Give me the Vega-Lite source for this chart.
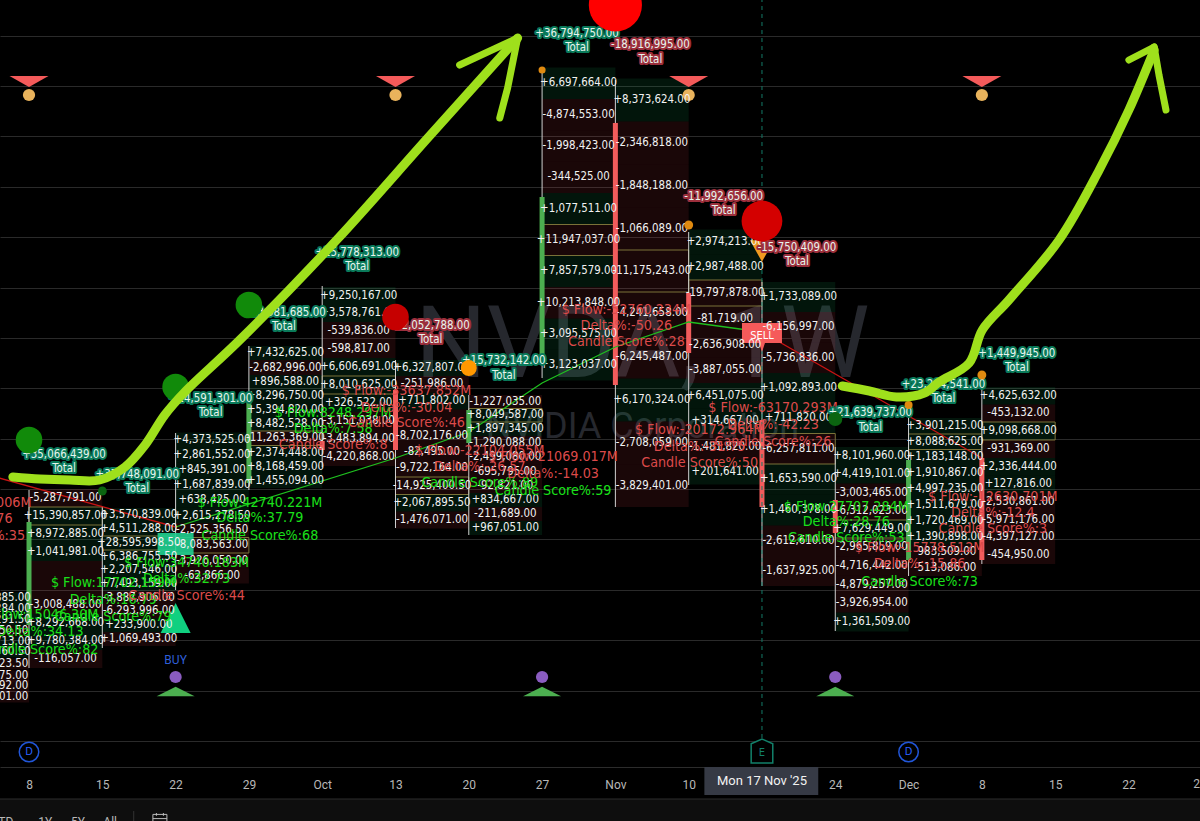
{"$schema":"https://vega.github.io/schema/vega-lite/v6.json","width":1200,"height":767,"autosize":"none","padding":{"left":0,"top":0,"right":0,"bottom":54},"background":"#000000","config":{"view":{"stroke":null},"text":{"font":"DejaVu Sans Condensed","baseline":"middle"}},
"resolve":{"scale":{"fill":"independent","stroke":"independent"}},
"datasets":{
"rows":[
{"d":"2025-09-01","e":"2025-09-08","p":164.3,"lo":163.75,"hi":164.85,"t":"+1,201,885.00","s":"buy"},
{"d":"2025-09-01","e":"2025-09-08","p":163.2,"lo":162.65,"hi":163.75,"t":"+3,121,284.00","s":"buy"},
{"d":"2025-09-01","e":"2025-09-08","p":162.1,"lo":161.55,"hi":162.65,"t":"+2,445,291.50","s":"buy"},
{"d":"2025-09-01","e":"2025-09-08","p":161.0,"lo":160.45,"hi":161.55,"t":"-1,310,950.50","s":"sell"},
{"d":"2025-09-01","e":"2025-09-08","p":159.9,"lo":159.35,"hi":160.45,"t":"+4,207,713.00","s":"buy"},
{"d":"2025-09-01","e":"2025-09-08","p":158.9,"lo":158.35,"hi":159.45,"t":"+1,988,760.50","s":"buy"},
{"d":"2025-09-01","e":"2025-09-08","p":157.7,"lo":157.15,"hi":158.25,"t":"-2,604,123.50","s":"sell"},
{"d":"2025-09-01","e":"2025-09-08","p":156.5,"lo":155.95,"hi":157.05,"t":"-1,533,075.00","s":"sell"},
{"d":"2025-09-01","e":"2025-09-08","p":155.5,"lo":154.95,"hi":156.05,"t":"-1,102,492.00","s":"sell"},
{"d":"2025-09-01","e":"2025-09-08","p":154.4,"lo":153.85,"hi":154.95,"t":"-1,744,201.00","s":"sell"},
{"d":"2025-09-08","e":"2025-09-15","p":174.3,"lo":173.4,"hi":175.2,"t":"-5,287,791.00","s":"sell"},
{"d":"2025-09-08","e":"2025-09-15","p":172.5,"lo":171.6,"hi":173.4,"t":"+15,390,857.00","s":"buy","c":1},
{"d":"2025-09-08","e":"2025-09-15","p":170.7,"lo":169.8,"hi":171.6,"t":"+8,972,885.00","s":"buy"},
{"d":"2025-09-08","e":"2025-09-15","p":168.9,"lo":168.0,"hi":169.8,"t":"+1,041,981.00","s":"buy"},
{"d":"2025-09-08","e":"2025-09-15","p":167.1,"lo":166.2,"hi":168.0,"t":"","s":"sell"},
{"d":"2025-09-08","e":"2025-09-15","p":165.3,"lo":164.5,"hi":166.2,"t":"","s":"sell"},
{"d":"2025-09-08","e":"2025-09-15","p":163.6,"lo":162.7,"hi":164.5,"t":"-3,008,488.00","s":"sell"},
{"d":"2025-09-08","e":"2025-09-15","p":161.8,"lo":160.9,"hi":162.7,"t":"+8,292,668.00","s":"buy"},
{"d":"2025-09-08","e":"2025-09-15","p":160.0,"lo":159.1,"hi":160.9,"t":"+9,780,384.00","s":"buy"},
{"d":"2025-09-08","e":"2025-09-15","p":158.2,"lo":157.3,"hi":159.1,"t":"-116,057.00","s":"sell"},
{"d":"2025-09-15","e":"2025-09-22","p":172.6,"lo":171.9,"hi":173.3,"t":"+3,570,839.00","s":"buy"},
{"d":"2025-09-15","e":"2025-09-22","p":171.2,"lo":170.5,"hi":171.9,"t":"+4,511,288.00","s":"buy"},
{"d":"2025-09-15","e":"2025-09-22","p":169.8,"lo":169.1,"hi":170.5,"t":"+28,595,998.50","s":"buy","c":1},
{"d":"2025-09-15","e":"2025-09-22","p":168.4,"lo":167.7,"hi":169.1,"t":"+6,386,755.50","s":"buy"},
{"d":"2025-09-15","e":"2025-09-22","p":167.1,"lo":166.4,"hi":167.7,"t":"+2,207,546.00","s":"buy"},
{"d":"2025-09-15","e":"2025-09-22","p":165.7,"lo":165.0,"hi":166.4,"t":"+7,493,159.00","s":"buy"},
{"d":"2025-09-15","e":"2025-09-22","p":164.3,"lo":163.6,"hi":165.0,"t":"-3,887,906.00","s":"sell"},
{"d":"2025-09-15","e":"2025-09-22","p":163.0,"lo":162.3,"hi":163.6,"t":"-6,293,996.00","s":"sell"},
{"d":"2025-09-15","e":"2025-09-22","p":161.6,"lo":160.9,"hi":162.3,"t":"+233,900.00","s":"buy"},
{"d":"2025-09-15","e":"2025-09-22","p":160.2,"lo":159.5,"hi":160.9,"t":"+1,069,493.00","s":"sell"},
{"d":"2025-09-22","e":"2025-09-29","p":180.1,"lo":179.35,"hi":180.85,"t":"+4,373,525.00","s":"buy"},
{"d":"2025-09-22","e":"2025-09-29","p":178.6,"lo":177.85,"hi":179.35,"t":"+2,861,552.00","s":"buy"},
{"d":"2025-09-22","e":"2025-09-29","p":177.1,"lo":176.35,"hi":177.85,"t":"+845,391.00","s":"buy"},
{"d":"2025-09-22","e":"2025-09-29","p":175.6,"lo":174.85,"hi":176.35,"t":"+1,687,839.00","s":"buy"},
{"d":"2025-09-22","e":"2025-09-29","p":174.1,"lo":173.35,"hi":174.85,"t":"+638,425.00","s":"buy"},
{"d":"2025-09-22","e":"2025-09-29","p":172.5,"lo":171.8,"hi":173.35,"t":"+2,615,278.50","s":"buy"},
{"d":"2025-09-22","e":"2025-09-29","p":171.1,"lo":170.35,"hi":171.8,"t":"-2,525,356.50","s":"sell"},
{"d":"2025-09-22","e":"2025-09-29","p":169.6,"lo":168.8,"hi":170.35,"t":"-8,083,563.00","s":"sell","c":1},
{"d":"2025-09-22","e":"2025-09-29","p":168.0,"lo":167.25,"hi":168.8,"t":"-3,926,050.00","s":"sell"},
{"d":"2025-09-22","e":"2025-09-29","p":166.5,"lo":165.75,"hi":167.25,"t":"-62,866.00","s":"sell"},
{"d":"2025-09-29","e":"2025-10-06","p":188.8,"lo":188.1,"hi":189.5,"t":"+7,432,625.00","s":"buy"},
{"d":"2025-09-29","e":"2025-10-06","p":187.3,"lo":186.6,"hi":188.1,"t":"-2,682,996.00","s":"sell"},
{"d":"2025-09-29","e":"2025-10-06","p":185.9,"lo":185.2,"hi":186.6,"t":"+896,588.00","s":"buy"},
{"d":"2025-09-29","e":"2025-10-06","p":184.5,"lo":183.8,"hi":185.2,"t":"+8,296,750.00","s":"buy"},
{"d":"2025-09-29","e":"2025-10-06","p":183.1,"lo":182.4,"hi":183.8,"t":"+5,394,820.00","s":"buy"},
{"d":"2025-09-29","e":"2025-10-06","p":181.7,"lo":181.0,"hi":182.4,"t":"+8,482,528.00","s":"buy"},
{"d":"2025-09-29","e":"2025-10-06","p":180.3,"lo":179.55,"hi":181.0,"t":"-11,263,369.00","s":"sell","c":1},
{"d":"2025-09-29","e":"2025-10-06","p":178.8,"lo":178.1,"hi":179.55,"t":"+2,374,448.00","s":"buy"},
{"d":"2025-09-29","e":"2025-10-06","p":177.4,"lo":176.7,"hi":178.1,"t":"+8,168,459.00","s":"buy"},
{"d":"2025-09-29","e":"2025-10-06","p":176.0,"lo":175.3,"hi":176.7,"t":"+1,455,094.00","s":"buy"},
{"d":"2025-10-06","e":"2025-10-13","p":194.5,"lo":193.6,"hi":195.4,"t":"+9,250,167.00","s":"buy"},
{"d":"2025-10-06","e":"2025-10-13","p":192.8,"lo":191.9,"hi":193.6,"t":"+3,578,761.00","s":"buy"},
{"d":"2025-10-06","e":"2025-10-13","p":191.0,"lo":190.1,"hi":191.9,"t":"-539,836.00","s":"sell"},
{"d":"2025-10-06","e":"2025-10-13","p":189.2,"lo":188.3,"hi":190.1,"t":"-598,817.00","s":"sell"},
{"d":"2025-10-06","e":"2025-10-13","p":187.4,"lo":186.5,"hi":188.3,"t":"+6,606,691.00","s":"buy"},
{"d":"2025-10-06","e":"2025-10-13","p":185.6,"lo":184.7,"hi":186.5,"t":"+8,010,625.00","s":"buy","c":1},
{"d":"2025-10-06","e":"2025-10-13","p":183.8,"lo":182.9,"hi":184.7,"t":"+326,522.00","s":"buy"},
{"d":"2025-10-06","e":"2025-10-13","p":182.0,"lo":181.1,"hi":182.9,"t":"-3,151,038.00","s":"sell"},
{"d":"2025-10-06","e":"2025-10-13","p":180.2,"lo":179.3,"hi":181.1,"t":"-3,483,894.00","s":"sell"},
{"d":"2025-10-06","e":"2025-10-13","p":178.4,"lo":177.5,"hi":179.3,"t":"-4,220,868.00","s":"sell"},
{"d":"2025-10-13","e":"2025-10-20","p":187.3,"lo":186.5,"hi":188.1,"t":"+6,327,807.00","s":"buy"},
{"d":"2025-10-13","e":"2025-10-20","p":185.7,"lo":184.85,"hi":186.5,"t":"-251,986.00","s":"sell"},
{"d":"2025-10-13","e":"2025-10-20","p":184.0,"lo":183.15,"hi":184.85,"t":"+711,802.00","s":"buy"},
{"d":"2025-10-13","e":"2025-10-20","p":182.3,"lo":181.4,"hi":183.15,"t":"","s":"sell"},
{"d":"2025-10-13","e":"2025-10-20","p":180.5,"lo":179.7,"hi":181.4,"t":"-8,702,176.00","s":"sell"},
{"d":"2025-10-13","e":"2025-10-20","p":178.9,"lo":178.1,"hi":179.7,"t":"-82,495.00","s":"sell"},
{"d":"2025-10-13","e":"2025-10-20","p":177.3,"lo":176.4,"hi":178.1,"t":"-9,722,164.00","s":"sell"},
{"d":"2025-10-13","e":"2025-10-20","p":175.5,"lo":174.65,"hi":176.4,"t":"-14,925,400.50","s":"sell","c":1},
{"d":"2025-10-13","e":"2025-10-20","p":173.8,"lo":172.95,"hi":174.65,"t":"+2,067,895.50","s":"buy"},
{"d":"2025-10-13","e":"2025-10-20","p":172.1,"lo":171.25,"hi":172.95,"t":"-1,476,071.00","s":"sell"},
{"d":"2025-10-20","e":"2025-10-27","p":183.9,"lo":183.25,"hi":184.6,"t":"-1,227,035.00","s":"sell"},
{"d":"2025-10-20","e":"2025-10-27","p":182.6,"lo":181.9,"hi":183.25,"t":"+8,049,587.00","s":"buy","c":1},
{"d":"2025-10-20","e":"2025-10-27","p":181.2,"lo":180.5,"hi":181.9,"t":"+1,897,345.00","s":"buy"},
{"d":"2025-10-20","e":"2025-10-27","p":179.8,"lo":179.1,"hi":180.5,"t":"-1,290,088.00","s":"sell"},
{"d":"2025-10-20","e":"2025-10-27","p":178.4,"lo":177.65,"hi":179.1,"t":"-2,499,080.00","s":"sell"},
{"d":"2025-10-20","e":"2025-10-27","p":176.9,"lo":176.2,"hi":177.65,"t":"-695,795.00","s":"sell"},
{"d":"2025-10-20","e":"2025-10-27","p":175.5,"lo":174.8,"hi":176.2,"t":"-92,821.00","s":"sell"},
{"d":"2025-10-20","e":"2025-10-27","p":174.1,"lo":173.4,"hi":174.8,"t":"+834,667.00","s":"buy"},
{"d":"2025-10-20","e":"2025-10-27","p":172.7,"lo":172.0,"hi":173.4,"t":"-211,689.00","s":"sell"},
{"d":"2025-10-20","e":"2025-10-27","p":171.3,"lo":170.6,"hi":172.0,"t":"+967,051.00","s":"buy"},
{"d":"2025-10-27","e":"2025-11-03","p":215.8,"lo":214.2,"hi":217.35,"t":"+6,697,664.00","s":"buy"},
{"d":"2025-10-27","e":"2025-11-03","p":212.6,"lo":211.05,"hi":214.2,"t":"-4,874,553.00","s":"sell"},
{"d":"2025-10-27","e":"2025-11-03","p":209.5,"lo":207.95,"hi":211.05,"t":"-1,998,423.00","s":"sell"},
{"d":"2025-10-27","e":"2025-11-03","p":206.4,"lo":204.8,"hi":207.95,"t":"-344,525.00","s":"sell"},
{"d":"2025-10-27","e":"2025-11-03","p":203.2,"lo":201.65,"hi":204.8,"t":"+1,077,511.00","s":"buy"},
{"d":"2025-10-27","e":"2025-11-03","p":200.1,"lo":198.55,"hi":201.65,"t":"+11,947,037.00","s":"sell","c":1},
{"d":"2025-10-27","e":"2025-11-03","p":197.0,"lo":195.4,"hi":198.55,"t":"+7,857,579.00","s":"buy"},
{"d":"2025-10-27","e":"2025-11-03","p":193.8,"lo":192.25,"hi":195.4,"t":"+10,213,848.00","s":"sell"},
{"d":"2025-10-27","e":"2025-11-03","p":190.7,"lo":189.15,"hi":192.25,"t":"+3,095,575.00","s":"buy"},
{"d":"2025-10-27","e":"2025-11-03","p":187.6,"lo":186.05,"hi":189.15,"t":"+3,123,037.00","s":"buy"},
{"d":"2025-11-03","e":"2025-11-10","p":214.1,"lo":211.95,"hi":216.25,"t":"+8,373,624.00","s":"buy"},
{"d":"2025-11-03","e":"2025-11-10","p":209.8,"lo":207.65,"hi":211.95,"t":"-2,346,818.00","s":"sell"},
{"d":"2025-11-03","e":"2025-11-10","p":205.5,"lo":203.35,"hi":207.65,"t":"-1,848,188.00","s":"sell"},
{"d":"2025-11-03","e":"2025-11-10","p":201.2,"lo":199.1,"hi":203.35,"t":"-1,066,089.00","s":"sell"},
{"d":"2025-11-03","e":"2025-11-10","p":197.0,"lo":194.9,"hi":199.1,"t":"-11,175,243.00","s":"sell","c":1},
{"d":"2025-11-03","e":"2025-11-10","p":192.8,"lo":190.6,"hi":194.9,"t":"-4,241,658.00","s":"sell"},
{"d":"2025-11-03","e":"2025-11-10","p":188.4,"lo":186.25,"hi":190.6,"t":"-6,245,487.00","s":"sell"},
{"d":"2025-11-03","e":"2025-11-10","p":184.1,"lo":181.95,"hi":186.25,"t":"+6,170,324.00","s":"buy"},
{"d":"2025-11-03","e":"2025-11-10","p":179.8,"lo":177.65,"hi":181.95,"t":"-2,708,059.00","s":"sell"},
{"d":"2025-11-03","e":"2025-11-10","p":175.5,"lo":173.4,"hi":177.65,"t":"-3,829,401.00","s":"sell"},
{"d":"2025-11-10","e":"2025-11-17","p":199.9,"lo":198.65,"hi":201.15,"t":"+2,974,213.00","s":"buy"},
{"d":"2025-11-10","e":"2025-11-17","p":197.4,"lo":196.1,"hi":198.65,"t":"+2,987,488.00","s":"buy"},
{"d":"2025-11-10","e":"2025-11-17","p":194.8,"lo":193.5,"hi":196.1,"t":"-19,797,878.00","s":"sell","c":1},
{"d":"2025-11-10","e":"2025-11-17","p":192.2,"lo":190.9,"hi":193.5,"t":"-81,719.00","s":"sell"},
{"d":"2025-11-10","e":"2025-11-17","p":189.6,"lo":188.35,"hi":190.9,"t":"-2,636,908.00","s":"sell"},
{"d":"2025-11-10","e":"2025-11-17","p":187.1,"lo":185.8,"hi":188.35,"t":"-3,887,055.00","s":"sell"},
{"d":"2025-11-10","e":"2025-11-17","p":184.5,"lo":183.25,"hi":185.8,"t":"+6,451,075.00","s":"buy"},
{"d":"2025-11-10","e":"2025-11-17","p":182.0,"lo":180.7,"hi":183.25,"t":"+314,667.00","s":"buy"},
{"d":"2025-11-10","e":"2025-11-17","p":179.4,"lo":178.15,"hi":180.7,"t":"-1,481,820.00","s":"sell"},
{"d":"2025-11-10","e":"2025-11-17","p":176.9,"lo":175.65,"hi":178.15,"t":"+201,641.00","s":"buy"},
{"d":"2025-11-17","e":"2025-11-24","p":194.4,"lo":192.9,"hi":195.9,"t":"+1,733,089.00","s":"buy"},
{"d":"2025-11-17","e":"2025-11-24","p":191.4,"lo":189.85,"hi":192.9,"t":"-6,156,997.00","s":"sell"},
{"d":"2025-11-17","e":"2025-11-24","p":188.3,"lo":186.8,"hi":189.85,"t":"-5,736,836.00","s":"sell"},
{"d":"2025-11-17","e":"2025-11-24","p":185.3,"lo":183.8,"hi":186.8,"t":"+1,092,893.00","s":"buy"},
{"d":"2025-11-17","e":"2025-11-24","p":182.3,"lo":180.75,"hi":183.8,"t":"+711,820.00","s":"buy"},
{"d":"2025-11-17","e":"2025-11-24","p":179.2,"lo":177.7,"hi":180.75,"t":"-6,257,811.00","s":"sell","c":1},
{"d":"2025-11-17","e":"2025-11-24","p":176.2,"lo":174.65,"hi":177.7,"t":"+1,653,590.00","s":"buy"},
{"d":"2025-11-17","e":"2025-11-24","p":173.1,"lo":171.55,"hi":174.65,"t":"+1,460,378.00","s":"buy"},
{"d":"2025-11-17","e":"2025-11-24","p":170.0,"lo":168.5,"hi":171.55,"t":"-2,612,610.00","s":"sell"},
{"d":"2025-11-17","e":"2025-11-24","p":167.0,"lo":165.5,"hi":168.5,"t":"-1,637,925.00","s":"sell"},
{"d":"2025-11-24","e":"2025-12-01","p":178.5,"lo":177.6,"hi":179.4,"t":"+8,101,960.00","s":"buy"},
{"d":"2025-11-24","e":"2025-12-01","p":176.7,"lo":175.75,"hi":177.6,"t":"+4,419,101.00","s":"buy"},
{"d":"2025-11-24","e":"2025-12-01","p":174.8,"lo":173.9,"hi":175.75,"t":"-3,003,465.00","s":"sell"},
{"d":"2025-11-24","e":"2025-12-01","p":173.0,"lo":172.1,"hi":173.9,"t":"-6,312,023.00","s":"sell"},
{"d":"2025-11-24","e":"2025-12-01","p":171.2,"lo":170.3,"hi":172.1,"t":"+7,629,449.00","s":"buy","c":1},
{"d":"2025-11-24","e":"2025-12-01","p":169.4,"lo":168.45,"hi":170.3,"t":"-2,965,859.00","s":"sell"},
{"d":"2025-11-24","e":"2025-12-01","p":167.5,"lo":166.55,"hi":168.45,"t":"-4,716,442.00","s":"sell"},
{"d":"2025-11-24","e":"2025-12-01","p":165.6,"lo":164.7,"hi":166.55,"t":"-4,879,257.00","s":"sell"},
{"d":"2025-11-24","e":"2025-12-01","p":163.8,"lo":162.85,"hi":164.7,"t":"-3,926,954.00","s":"sell"},
{"d":"2025-11-24","e":"2025-12-01","p":161.9,"lo":160.95,"hi":162.85,"t":"+1,361,509.00","s":"buy"},
{"d":"2025-12-01","e":"2025-12-08","p":181.5,"lo":180.7,"hi":182.3,"t":"+3,901,215.00","s":"buy"},
{"d":"2025-12-01","e":"2025-12-08","p":179.9,"lo":179.15,"hi":180.7,"t":"+8,088,625.00","s":"buy","c":1},
{"d":"2025-12-01","e":"2025-12-08","p":178.4,"lo":177.6,"hi":179.15,"t":"+1,183,148.00","s":"buy"},
{"d":"2025-12-01","e":"2025-12-08","p":176.8,"lo":176.0,"hi":177.6,"t":"+1,910,867.00","s":"buy"},
{"d":"2025-12-01","e":"2025-12-08","p":175.2,"lo":174.4,"hi":176.0,"t":"+4,997,235.00","s":"buy"},
{"d":"2025-12-01","e":"2025-12-08","p":173.6,"lo":172.8,"hi":174.4,"t":"+1,511,679.00","s":"buy"},
{"d":"2025-12-01","e":"2025-12-08","p":172.0,"lo":171.2,"hi":172.8,"t":"+1,720,469.00","s":"buy"},
{"d":"2025-12-01","e":"2025-12-08","p":170.4,"lo":169.65,"hi":171.2,"t":"+1,390,898.00","s":"buy"},
{"d":"2025-12-01","e":"2025-12-08","p":168.9,"lo":168.1,"hi":169.65,"t":"-983,509.00","s":"sell"},
{"d":"2025-12-01","e":"2025-12-08","p":167.3,"lo":166.5,"hi":168.1,"t":"-513,086.00","s":"sell"},
{"d":"2025-12-08","e":"2025-12-15","p":184.5,"lo":183.65,"hi":185.4,"t":"+4,625,632.00","s":"buy"},
{"d":"2025-12-08","e":"2025-12-15","p":182.8,"lo":181.9,"hi":183.65,"t":"-453,132.00","s":"sell"},
{"d":"2025-12-08","e":"2025-12-15","p":181.0,"lo":180.1,"hi":181.9,"t":"+9,098,668.00","s":"buy","c":1},
{"d":"2025-12-08","e":"2025-12-15","p":179.2,"lo":178.3,"hi":180.1,"t":"-931,369.00","s":"sell"},
{"d":"2025-12-08","e":"2025-12-15","p":177.4,"lo":176.55,"hi":178.3,"t":"+2,336,444.00","s":"buy"},
{"d":"2025-12-08","e":"2025-12-15","p":175.7,"lo":174.8,"hi":176.55,"t":"+127,816.00","s":"buy"},
{"d":"2025-12-08","e":"2025-12-15","p":173.9,"lo":173.0,"hi":174.8,"t":"-2,530,861.00","s":"sell"},
{"d":"2025-12-08","e":"2025-12-15","p":172.1,"lo":171.25,"hi":173.0,"t":"-5,971,176.00","s":"sell"},
{"d":"2025-12-08","e":"2025-12-15","p":170.4,"lo":169.5,"hi":171.25,"t":"-4,397,127.00","s":"sell"},
{"d":"2025-12-08","e":"2025-12-15","p":168.6,"lo":167.7,"hi":169.5,"t":"-454,950.00","s":"sell"}
],
"wicks":[
{"d":"2025-09-08","lo":157.3,"hi":175.1},{"d":"2025-09-15","lo":159.3,"hi":173.5},{"d":"2025-09-22","lo":165.1,"hi":180.8},{"d":"2025-09-29","lo":175.1,"hi":189.5},{"d":"2025-10-06","lo":177.4,"hi":195.5},{"d":"2025-10-13","lo":171.3,"hi":188.1},{"d":"2025-10-20","lo":170.6,"hi":184.6},{"d":"2025-10-27","lo":186.3,"hi":216.8},{"d":"2025-11-03","lo":173.4,"hi":216.1},{"d":"2025-11-10","lo":175.6,"hi":200.9},{"d":"2025-11-17","lo":165.5,"hi":195.9},{"d":"2025-11-24","lo":161.0,"hi":179.4},{"d":"2025-12-01","lo":166.5,"hi":182.3},{"d":"2025-12-08","lo":167.7,"hi":185.4}],
"bodies":[
{"d":"2025-09-08","lo":161.6,"hi":171.9,"s":"buy"},{"d":"2025-09-29","lo":175.8,"hi":184.8,"s":"buy"},{"d":"2025-10-06","lo":179.1,"hi":180.0,"s":"sell"},{"d":"2025-10-13","lo":179.1,"hi":185.1,"s":"sell"},{"d":"2025-10-20","lo":179.8,"hi":183.1,"s":"buy"},{"d":"2025-10-27","lo":188.6,"hi":204.4,"s":"buy"},{"d":"2025-11-03","lo":185.6,"hi":211.8,"s":"sell"},{"d":"2025-11-10","lo":188.8,"hi":194.8,"s":"sell"},{"d":"2025-11-17","lo":173.4,"hi":182.1,"s":"sell"},{"d":"2025-11-24","lo":170.8,"hi":174.1,"s":"sell"},{"d":"2025-12-01","lo":168.1,"hi":178.1,"s":"buy"},{"d":"2025-12-08","lo":168.1,"hi":178.3,"s":"sell"}],
"flow":[
{"d":"2025-09-01","p":173.8,"t":"$ Flow:-21006.006M","s":"sell"},{"d":"2025-09-01","p":172.2,"t":"Delta%:-24.76","s":"sell"},{"d":"2025-09-01","p":170.5,"t":"Candle Score%:35","s":"sell"},
{"d":"2025-09-08","p":162.6,"t":"$ Flow:15046.30M","s":"buy"},{"d":"2025-09-08","p":160.9,"t":"Delta%:34.13","s":"buy"},{"d":"2025-09-08","p":159.1,"t":"Candle Score%:82","s":"buy"},
{"d":"2025-09-15","p":165.8,"t":"$ Flow:17702.159M","s":"buy"},{"d":"2025-09-15","p":164.1,"t":"Delta%:16.79","s":"buy"},{"d":"2025-09-15","p":162.4,"t":"Candle Score%:79","s":"buy"},
{"d":"2025-09-22","p":167.8,"t":"$ Flow:34740.183M","s":"buy"},{"d":"2025-09-22","p":166.2,"t":"Delta%:32.73","s":"buy"},{"d":"2025-09-22","p":164.5,"t":"Candle Score%:44","s":"sell"},
{"d":"2025-09-29","p":173.8,"t":"$ Flow:42740.221M","s":"buy"},{"d":"2025-09-29","p":172.3,"t":"Delta%:37.79","s":"buy"},{"d":"2025-09-29","p":170.5,"t":"Candle Score%:68","s":"buy"},
{"d":"2025-10-06","p":182.8,"t":"$ Flow:8248.297M","s":"buy"},{"d":"2025-10-06","p":181.2,"t":"Delta%:7.58","s":"buy"},{"d":"2025-10-06","p":179.6,"t":"Candle Score%:8","s":"sell"},
{"d":"2025-10-13","p":185.0,"t":"$ Flow:-33637.852M","s":"sell"},{"d":"2025-10-13","p":183.3,"t":"Delta%:-30.04","s":"sell"},{"d":"2025-10-13","p":181.8,"t":"Candle Score%:46","s":"sell"},
{"d":"2025-10-20","p":179.0,"t":"$ Flow:-22104.055M","s":"sell"},{"d":"2025-10-20","p":177.4,"t":"Delta%:-26.57","s":"sell"},{"d":"2025-10-20","p":175.8,"t":"Candle Score%:89","s":"buy"},
{"d":"2025-10-27","p":178.4,"t":"$ Flow:-21069.017M","s":"sell"},{"d":"2025-10-27","p":176.7,"t":"Delta%:-14.03","s":"sell"},{"d":"2025-10-27","p":175.0,"t":"Candle Score%:59","s":"buy"},
{"d":"2025-11-03","p":193.1,"t":"$ Flow:-52760.234M","s":"sell"},{"d":"2025-11-03","p":191.5,"t":"Delta%:-50.26","s":"sell"},{"d":"2025-11-03","p":189.9,"t":"Candle Score%:28","s":"sell"},
{"d":"2025-11-10","p":181.1,"t":"$ Flow:-20172.964M","s":"sell"},{"d":"2025-11-10","p":179.4,"t":"Delta%:-31.75","s":"sell"},{"d":"2025-11-10","p":177.8,"t":"Candle Score%:50","s":"sell"},
{"d":"2025-11-17","p":183.3,"t":"$ Flow:-63170.293M","s":"sell"},{"d":"2025-11-17","p":181.6,"t":"Delta%:-42.23","s":"sell"},{"d":"2025-11-17","p":179.9,"t":"Candle Score%:26","s":"sell"},
{"d":"2025-11-24","p":173.4,"t":"$ Flow:27707.284M","s":"buy"},{"d":"2025-11-24","p":171.9,"t":"Delta%:28.76","s":"buy"},{"d":"2025-11-24","p":170.3,"t":"Candle Score%:53","s":"buy"},
{"d":"2025-12-01","p":169.3,"t":"$ Flow:-15778.512M","s":"sell"},{"d":"2025-12-01","p":167.7,"t":"Delta%:-15.86","s":"sell"},{"d":"2025-12-01","p":165.9,"t":"Candle Score%:73","s":"buy"},
{"d":"2025-12-08","p":174.4,"t":"$ Flow:-12630.701M","s":"sell"},{"d":"2025-12-08","p":172.8,"t":"Delta%:-12.4","s":"sell"},{"d":"2025-12-08","p":171.2,"t":"Candle Score%:3","s":"sell"}],
"totals":[
{"d":"2025-09-08","p":178.6,"t":"+35,066,439.00","s":"buy"},{"d":"2025-09-08","p":177.2,"t":"Total","s":"buy"},
{"d":"2025-09-15","p":176.6,"t":"+37,748,091.00","s":"buy"},{"d":"2025-09-15","p":175.2,"t":"Total","s":"buy"},
{"d":"2025-09-22","p":184.2,"t":"+14,591,301.00","s":"buy"},{"d":"2025-09-22","p":182.8,"t":"Total","s":"buy"},
{"d":"2025-09-29","p":192.8,"t":"+13,081,685.00","s":"buy"},{"d":"2025-09-29","p":191.4,"t":"Total","s":"buy"},
{"d":"2025-10-06","p":198.8,"t":"+15,778,313.00","s":"buy"},{"d":"2025-10-06","p":197.4,"t":"Total","s":"buy"},
{"d":"2025-10-13","p":191.5,"t":"-12,052,788.00","s":"sell"},{"d":"2025-10-13","p":190.1,"t":"Total","s":"sell"},
{"d":"2025-10-20","p":188.0,"t":"+15,732,142.00","s":"buy"},{"d":"2025-10-20","p":186.5,"t":"Total","s":"buy"},
{"d":"2025-10-27","p":220.7,"t":"+36,794,750.00","s":"buy"},{"d":"2025-10-27","p":219.3,"t":"Total","s":"buy"},
{"d":"2025-11-03","p":219.6,"t":"-18,916,995.00","s":"sell"},{"d":"2025-11-03","p":218.1,"t":"Total","s":"sell"},
{"d":"2025-11-10","p":204.4,"t":"-11,992,656.00","s":"sell"},{"d":"2025-11-10","p":203.0,"t":"Total","s":"sell"},
{"d":"2025-11-17","p":199.3,"t":"-15,750,409.00","s":"sell"},{"d":"2025-11-17","p":197.9,"t":"Total","s":"sell"},
{"d":"2025-11-24","p":182.8,"t":"+21,639,737.00","s":"buy"},{"d":"2025-11-24","p":181.3,"t":"Total","s":"buy"},
{"d":"2025-12-01","p":185.6,"t":"+23,264,541.00","s":"buy"},{"d":"2025-12-01","p":184.2,"t":"Total","s":"buy"},
{"d":"2025-12-08","p":188.7,"t":"+1,449,945.00","s":"buy"},{"d":"2025-12-08","p":187.3,"t":"Total","s":"buy"}],
"circles":[
{"d":"2025-09-08","p":180.1,"k":"g","z":707},{"d":"2025-09-22","p":185.4,"k":"g","z":707},{"d":"2025-09-29","p":193.6,"k":"g","z":707},{"d":"2025-10-13","p":192.4,"k":"r","z":707},{"d":"2025-11-03","p":223.6,"k":"R","z":2827},{"d":"2025-11-17","p":202.0,"k":"r2","z":1662},{"d":"2025-11-24","p":182.2,"k":"dg","z":201},{"d":"2025-09-15","p":175.0,"k":"dg","z":79},
{"d":"2025-10-20","p":187.3,"k":"o","z":254},{"d":"2025-10-27","p":217.1,"k":"o2","z":50},{"d":"2025-11-10","p":201.6,"k":"o2","z":79},{"d":"2025-12-01","p":183.6,"k":"o2","z":64},{"d":"2025-12-08","p":186.6,"k":"o2","z":79}],
"paths":[
{"d":"2025-09-01","p":177.5,"k":"red1","o":1},{"d":"2025-09-22","p":171.4,"k":"red1","o":2},
{"d":"2025-09-22","p":171.4,"k":"grn","o":1},{"d":"2025-10-13","p":178.3,"k":"grn","o":2},{"d":"2025-10-20","p":180.9,"k":"grn","o":3},{"d":"2025-10-27","p":185.8,"k":"grn","o":4},{"d":"2025-11-03","p":189.4,"k":"grn","o":5},{"d":"2025-11-10","p":191.9,"k":"grn","o":6},{"d":"2025-11-17","p":190.9,"k":"grn","o":7},
{"d":"2025-11-17","p":190.9,"k":"red2","o":1},{"d":"2025-12-08","p":178.3,"k":"red2","o":2}],
"tops":[{"d":"2025-09-08","p":215.95,"q":214.6},{"d":"2025-10-13","p":215.95,"q":214.6},{"d":"2025-11-10","p":215.95,"q":214.6},{"d":"2025-12-08","p":215.95,"q":214.6}],
"buys":[{"d":"2025-09-22","p":154.95,"q":156.4},{"d":"2025-10-27","p":154.95,"q":156.4},{"d":"2025-11-24","p":154.95,"q":156.4}],
"ticks":[{"d":"2025-09-08","p":148.9,"t":"D"},{"d":"2025-12-01","p":148.9,"t":"D"}],
"strokes":[
{"d":"2025-09-06T11:00:00Z","p":176.4,"k":"a","o":1},{"d":"2025-09-09T01:00:00Z","p":176.2,"k":"a","o":2},{"d":"2025-09-11T22:00:00Z","p":176.1,"k":"a","o":3},{"d":"2025-09-14T18:00:00Z","p":176.1,"k":"a","o":4},{"d":"2025-09-17T04:00:00Z","p":177.4,"k":"a","o":5},{"d":"2025-09-19T02:00:00Z","p":179.6,"k":"a","o":6},{"d":"2025-09-20T23:00:00Z","p":182.6,"k":"a","o":7},{"d":"2025-09-22T21:00:00Z","p":184.9,"k":"a","o":8},{"d":"2025-09-28T03:00:00Z","p":190.1,"k":"a","o":9},{"d":"2025-10-07T09:00:00Z","p":200.1,"k":"a","o":10},{"d":"2025-10-16T06:00:00Z","p":210.5,"k":"a","o":11},{"d":"2025-10-24T16:00:00Z","p":220.3,"k":"a","o":12},
{"d":"2025-10-19T03:00:00Z","p":217.6,"k":"a1","o":1},{"d":"2025-10-24T16:00:00Z","p":220.3,"k":"a1","o":2},
{"d":"2025-10-24T16:00:00Z","p":220.3,"k":"a2","o":1},{"d":"2025-10-23T17:00:00Z","p":215.3,"k":"a2","o":2},{"d":"2025-10-22T23:00:00Z","p":212.3,"k":"a2","o":3},
{"d":"2025-11-24T16:00:00Z","p":185.5,"k":"b","o":1},{"d":"2025-11-27T06:00:00Z","p":185.0,"k":"b","o":2},{"d":"2025-11-29T20:00:00Z","p":184.4,"k":"b","o":3},{"d":"2025-12-02T12:00:00Z","p":184.8,"k":"b","o":4},{"d":"2025-12-03T22:00:00Z","p":185.9,"k":"b","o":5},{"d":"2025-12-06T19:00:00Z","p":187.8,"k":"b","o":6},{"d":"2025-12-08T01:00:00Z","p":191.1,"k":"b","o":7},{"d":"2025-12-10T14:00:00Z","p":194.1,"k":"b","o":8},{"d":"2025-12-15T09:00:00Z","p":200.1,"k":"b","o":9},{"d":"2025-12-19T05:00:00Z","p":207.1,"k":"b","o":10},{"d":"2025-12-22T01:00:00Z","p":213.1,"k":"b","o":11},{"d":"2025-12-24T11:00:00Z","p":219.1,"k":"b","o":12},
{"d":"2025-12-22T01:00:00Z","p":218.1,"k":"b1","o":1},{"d":"2025-12-24T11:00:00Z","p":219.4,"k":"b1","o":2},
{"d":"2025-12-24T11:00:00Z","p":219.4,"k":"b2","o":1},{"d":"2025-12-24T22:00:00Z","p":216.6,"k":"b2","o":2},{"d":"2025-12-25T14:00:00Z","p":213.1,"k":"b2","o":3}],
"chrome":[{"d":"2025-09-05T19:00:00Z","p":141.9,"t":"TD"},{"d":"2025-09-09T13:00:00Z","p":141.9,"t":"1Y"},{"d":"2025-09-12T16:00:00Z","p":141.9,"t":"5Y"},{"d":"2025-09-15T18:00:00Z","p":141.9,"t":"All"},{"d":"2025-12-28T20:00:00Z","p":145.7,"t":"29"}]
},
"encoding":{
"x":{"field":"d","type":"temporal","scale":{"type":"utc","domain":[{"utc":true,"year":2025,"month":"sep","date":5,"hours":5,"minutes":30},{"utc":true,"year":2025,"month":"dec","date":28,"hours":20}]},"axis":{"title":null,"grid":false,"ticks":false,"domain":true,"domainColor":"#2c2c2c","labelColor":"#b8b8b8","labelFont":"Roboto","labelFontSize":12,"labelBaseline":"middle","labelPadding":17,"labelOverlap":false,"labelFlush":false,"labelBound":false,
"values":[{"utc":true,"year":2025,"month":"sep","date":8},{"utc":true,"year":2025,"month":"sep","date":15},{"utc":true,"year":2025,"month":"sep","date":22},{"utc":true,"year":2025,"month":"sep","date":29},{"utc":true,"year":2025,"month":"oct","date":6},{"utc":true,"year":2025,"month":"oct","date":13},{"utc":true,"year":2025,"month":"oct","date":20},{"utc":true,"year":2025,"month":"oct","date":27},{"utc":true,"year":2025,"month":"nov","date":3},{"utc":true,"year":2025,"month":"nov","date":10},{"utc":true,"year":2025,"month":"nov","date":17},{"utc":true,"year":2025,"month":"nov","date":24},{"utc":true,"year":2025,"month":"dec","date":1},{"utc":true,"year":2025,"month":"dec","date":8},{"utc":true,"year":2025,"month":"dec","date":15},{"utc":true,"year":2025,"month":"dec","date":22}],
"labelExpr":"utcdate(datum.value) <= 7 ? utcFormat(datum.value, '%b') : utcdate(datum.value)"}},
"y":{"field":"p","type":"quantitative","scale":{"domain":[147.4,224.1],"nice":false,"zero":false},"axis":{"title":null,"labels":false,"ticks":false,"domain":false,"grid":true,"gridColor":"#2a2a2a","gridWidth":1,"values":[150.0,155.0,160.1,165.1,170.2,175.2,180.2,185.3,190.3,195.3,200.4,205.4,210.5,215.5,220.5]}}
},
"layer":[
{"data":{"values":[{"d":"2025-08-20","e":"2026-01-15","p":144.2,"lo":140}]},"mark":{"type":"rect","fill":"#0e0e0e","stroke":"#2c2c2c","strokeWidth":1},"encoding":{"x2":{"field":"e"},"y2":{"field":"lo"}}},
{"data":{"values":[{"d":"2025-11-05T14:00:00Z","p":189.4,"t":"NVDA, 1W","z":100},{"d":"2025-11-05T14:00:00Z","p":181.4,"t":"NVIDIA Corporation","z":36}]},"mark":{"type":"text","font":"Roboto","fill":"#26282e"},"encoding":{"text":{"field":"t"},"size":{"field":"z","type":"quantitative","scale":null}}},
{"data":{"name":"rows"},"mark":{"type":"rect"},"encoding":{"x2":{"field":"e"},"y":{"field":"lo","type":"quantitative"},"y2":{"field":"hi"},"fill":{"field":"s","type":"nominal","legend":null,"scale":{"domain":["buy","sell"],"range":["rgba(20,190,100,0.11)","rgba(240,60,70,0.11)"]}}}},
{"data":{"name":"rows"},"transform":[{"filter":"datum.c === 1"}],"mark":{"type":"rect","fill":"transparent","stroke":"#7a7238","strokeWidth":1},"encoding":{"x2":{"field":"e"},"y":{"field":"lo","type":"quantitative"},"y2":{"field":"hi"}}},
{"data":{"name":"wicks"},"mark":{"type":"rule","stroke":"#d0d0d0","strokeWidth":1},"encoding":{"y":{"field":"lo","type":"quantitative"},"y2":{"field":"hi"}}},
{"data":{"name":"bodies"},"mark":{"type":"rule","strokeWidth":5},"encoding":{"y":{"field":"lo","type":"quantitative"},"y2":{"field":"hi"},"stroke":{"field":"s","type":"nominal","legend":null,"scale":{"domain":["buy","sell"],"range":["#4caf50","#f25c5c"]}}}},
{"data":{"values":[{"d":"2025-11-17","lo":150.3,"hi":224.1}]},"mark":{"type":"rule","stroke":"#137a66","strokeWidth":1,"strokeDash":[4,4]},"encoding":{"y":{"field":"lo","type":"quantitative"},"y2":{"field":"hi"}}},
{"data":{"name":"paths"},"mark":{"type":"line","strokeWidth":1.3},"encoding":{"order":{"field":"o"},"detail":{"field":"k"},"stroke":{"field":"k","type":"nominal","legend":null,"scale":{"domain":["grn","red1","red2"],"range":["#1fc01f","#c81414","#c81414"]}}}},
{"data":{"name":"tops"},"mark":{"type":"point","shape":"M-1,-0.28L1,-0.28L0,0.28Z","filled":true,"fill":"#f45a5a","opacity":1,"size":1521}},
{"data":{"name":"tops"},"mark":{"type":"point","shape":"circle","filled":true,"fill":"#e9b35c","opacity":1,"size":150},"encoding":{"y":{"field":"q","type":"quantitative"}}},
{"data":{"name":"buys"},"mark":{"type":"point","shape":"M0,-0.25L1,0.25L-1,0.25Z","filled":true,"fill":"#4caf50","opacity":1,"size":1444}},
{"data":{"name":"buys"},"mark":{"type":"point","shape":"circle","filled":true,"fill":"#8a5cc0","opacity":1,"size":150},"encoding":{"y":{"field":"q","type":"quantitative"}}},
{"data":{"values":[{"d":"2025-09-22","p":158.1,"t":"BUY"}]},"mark":{"type":"text","font":"Roboto","fontSize":12,"fill":"#2f5fd8"},"encoding":{"text":{"field":"t"}}},
{"data":{"values":[{"d":"2025-09-22","p":162.3}]},"mark":{"type":"point","shape":"M0,-1L1,1L-1,1Z","filled":true,"fill":"#10d080","opacity":1,"size":900}},
{"data":{"values":[{"d":"2025-09-22","p":169.7}]},"mark":{"type":"point","shape":"M-1,-0.61H1V0.61H-1Z","filled":true,"fill":"#1fd090","opacity":0.9,"size":1296}},
{"data":{"values":[{"d":"2025-11-17","p":190.8}]},"mark":{"type":"point","shape":"M-1,-0.5H1V0.5H0.15L0,0.95L-0.15,0.5H-1Z","filled":true,"fill":"#f55a5a","opacity":1,"size":1600}},
{"data":{"values":[{"d":"2025-11-17","p":190.5,"t":"SELL"}]},"mark":{"type":"text","fontSize":11,"fill":"#ffffff"},"encoding":{"text":{"field":"t"}}},
{"data":{"values":[{"d":"2025-11-17","p":199.0}]},"mark":{"type":"point","shape":"M-1,-0.9L1,-0.9L0,0.9Z","filled":true,"fill":"#f09a20","opacity":1,"size":576}},
{"data":{"name":"rows"},"mark":{"type":"text","fontSize":11.4,"fill":"#f2f2f2","dx":36.5},"encoding":{"text":{"field":"t"}}},
{"data":{"name":"flow"},"mark":{"type":"text","fontSize":14.2,"dx":11},"encoding":{"text":{"field":"t"},"fill":{"field":"s","type":"nominal","legend":null,"scale":{"domain":["buy","sell"],"range":["#1ae01a","#dc4a4a"]}}}},
{"data":{"name":"totals"},"mark":{"type":"text","fontSize":11.4,"dx":35,"strokeWidth":4,"strokeJoin":"round"},"encoding":{"text":{"field":"t"},"stroke":{"field":"s","type":"nominal","legend":null,"scale":{"domain":["buy","sell"],"range":["#0a7a5a","#9c2f3c"]}}}},
{"data":{"name":"totals"},"mark":{"type":"text","fontSize":11.4,"dx":35,"fill":"#e8f5ee"},"encoding":{"text":{"field":"t"}}},
{"data":{"name":"circles"},"mark":{"type":"point","shape":"circle","filled":true,"opacity":1},"encoding":{"size":{"field":"z","type":"quantitative","scale":null},"fill":{"field":"k","type":"nominal","legend":null,"scale":{"domain":["g","r","R","r2","dg","o","o2"],"range":["#118a0a","#c60000","#ff0000","#d40000","#0b6510","#ff9800","#e08a10"]}}}},
{"data":{"name":"ticks"},"mark":{"type":"point","shape":"circle","filled":true,"fill":"#000000","stroke":"#2156d8","strokeWidth":1.5,"opacity":1,"size":380}},
{"data":{"name":"ticks"},"mark":{"type":"text","fontSize":11,"fill":"#2962ff"},"encoding":{"text":{"field":"t"}}},
{"data":{"values":[{"d":"2025-11-17","p":149.0}]},"mark":{"type":"point","shape":"M-0.9,-0.6L0,-1L0.9,-0.6L0.9,1L-0.9,1Z","filled":true,"fill":"#000000","stroke":"#12806a","strokeWidth":1.5,"opacity":1,"size":576}},
{"data":{"values":[{"d":"2025-11-17","p":148.8,"t":"E"}]},"mark":{"type":"text","fontSize":11,"fill":"#12806a"},"encoding":{"text":{"field":"t"}}},
{"data":{"values":[{"d":"2025-11-11T12:00:00Z","e":"2025-11-22T09:00:00Z","p":147.4,"lo":144.6}]},"mark":{"type":"rect","fill":"#363a45"},"encoding":{"x2":{"field":"e"},"y2":{"field":"lo"}}},
{"data":{"values":[{"d":"2025-11-17","p":146.0,"t":"Mon 17 Nov '25"}]},"mark":{"type":"text","font":"Roboto","fontSize":13,"fill":"#f2f2f2"},"encoding":{"text":{"field":"t"}}},
{"data":{"name":"chrome"},"mark":{"type":"text","font":"Roboto","fontSize":12,"fill":"#b8b8b8"},"encoding":{"text":{"field":"t"}}},
{"data":{"values":[{"d":"2025-09-18","p":143.0,"lo":142.0}]},"mark":{"type":"rule","stroke":"#333333"},"encoding":{"y2":{"field":"lo"}}},
{"data":{"values":[{"d":"2025-09-20T12:00:00Z","p":142.1}]},"mark":{"type":"point","shape":"M-1,-0.8H1V1H-1ZM-1,-0.2H1M-0.5,-1V-0.6M0.5,-1V-0.6","stroke":"#bbbbbb","strokeWidth":1,"opacity":1,"size":196}},
{"data":{"name":"strokes"},"transform":[{"filter":"datum.k === 'a' || datum.k === 'b'"}],"mark":{"type":"line","stroke":"#9fe01c","strokeWidth":9,"strokeCap":"round","strokeJoin":"round","interpolate":"catmull-rom"},"encoding":{"order":{"field":"o"},"detail":{"field":"k"}}},
{"data":{"name":"strokes"},"transform":[{"filter":"datum.k !== 'a' && datum.k !== 'b'"}],"mark":{"type":"line","stroke":"#9fe01c","strokeWidth":7,"strokeCap":"round","strokeJoin":"round"},"encoding":{"order":{"field":"o"},"detail":{"field":"k"}}}
]}
